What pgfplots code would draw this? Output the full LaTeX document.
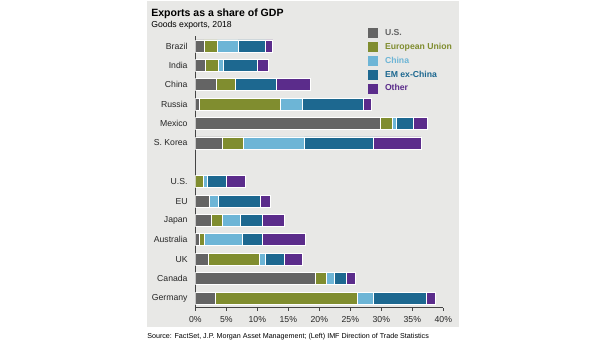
\documentclass[border=0pt]{standalone}
\usepackage{pgfplots}
\pgfplotsset{compat=1.18}
\usepackage{pgfplotstable}
\usepackage{fontspec}
\setmainfont{Liberation Sans}
\definecolor{cUS}{HTML}{646464}
\definecolor{cEU}{HTML}{808D2F}
\definecolor{cCN}{HTML}{6DB5D6}
\definecolor{cEM}{HTML}{1D6890}
\definecolor{cOT}{HTML}{5B2C8B}
\definecolor{panel}{HTML}{E8E8E6}
\definecolor{axl}{HTML}{444444}
\pgfplotstableread{
y us eu cn em oth
0 1.4 2.15 3.35 4.45 1.15
1 1.7 2.1 0.7 5.45 1.85
2 3.4 3.05 0 6.55 5.5
3 0.6 13.05 3.55 9.85 1.3
4 29.8 2.05 0.65 2.65 2.35
5 4.3 3.4 9.9 11.2 7.6
7 0 1.35 0.65 3.05 2.95
8 2.3 0 1.4 6.75 1.7
9 2.6 1.7 2.9 3.55 3.65
10 0.6 0.85 6.1 3.35 6.8
11 2.15 8.15 1.0 3.0 3.0
12 19.35 1.85 1.3 1.8 1.45
13 3.2 22.9 2.7 8.55 1.35
}\datatab
\begin{document}
\begin{tikzpicture}
\begin{scope}[x=0.75pt,y=-0.75pt]
\useasboundingbox (0,0) rectangle (605,341);
\fill[white] (0,0) rectangle (605,341);
\fill[panel] (147,1) rectangle (459,327);
\node[anchor=base west,inner sep=0pt,font=\fontsize{7.9pt}{9pt}\selectfont\bfseries] at (151,16.7) {Exports as a share of GDP};
\node[anchor=base west,inner sep=0pt,font=\fontsize{6.5pt}{8pt}\selectfont] at (151,27.5) {Goods exports, 2018};
\node[anchor=base west,inner sep=0pt,font=\fontsize{5.37pt}{6.5pt}\selectfont] at (147,338) {Source: FactSet, J.P. Morgan Asset Management; (Left) IMF Direction of Trade Statistics};
\end{scope}
\begin{axis}[
  at={(146.475pt,-230.775pt)}, anchor=south west,
  scale only axis, width=186pt, height=203.55pt,
  xbar stacked, bar width=0.62,
  xmin=0, xmax=40, ymin=-0.5, ymax=13.5, y dir=reverse,
  axis x line*=bottom, axis y line*=left,
  axis line style={axl, line width=0.5pt},
  tick align=outside,
  xtick={0,5,...,40},
  xticklabels={0\%,5\%,10\%,15\%,20\%,25\%,30\%,35\%,40\%},
  major tick length=2.4pt, minor tick length=2.4pt,
  tick style={axl, line width=0.5pt},
  ytick={0,1,2,3,4,5,7,8,9,10,11,12,13},
  yticklabels={Brazil,India,China,Russia,Mexico,S. Korea,U.S.,EU,Japan,Australia,UK,Canada,Germany},
  ytick style={draw=none},
  minor ytick={-0.5,0.5,...,13.5},
  minor tick style={axl, line width=0.5pt},
  ticklabel style={font=\fontsize{6.5pt}{8pt}\selectfont, text=black!85},
  yticklabel style={inner sep=0pt, anchor=east, xshift=-3.2pt},
  xticklabel style={inner sep=0pt, anchor=north, yshift=-4.0pt},
  legend cell align=left,
  legend style={at={(0.695,1.03)}, anchor=north west, draw=none, fill=none,
    inner sep=0pt, row sep=3.1pt,
    nodes={inner sep=0pt, font=\fontsize{6.5pt}{8pt}\selectfont\bfseries}},
  legend image code/.code={\fill[#1,draw=none] (0pt,-3.65pt) rectangle (7.3pt,3.65pt); \path (12.5pt,0pt);},
  every axis plot/.append style={draw=white, line width=0.6pt},
]
\addplot[fill=cUS] table[x=us,y=y]{\datatab};
\addlegendentry{\textcolor{cUS}{U.S.}}
\addplot[fill=cEU] table[x=eu,y=y]{\datatab};
\addlegendentry{\textcolor{cEU}{European Union}}
\addplot[fill=cCN] table[x=cn,y=y]{\datatab};
\addlegendentry{\textcolor{cCN}{China}}
\addplot[fill=cEM] table[x=em,y=y]{\datatab};
\addlegendentry{\textcolor{cEM}{EM ex-China}}
\addplot[fill=cOT] table[x=oth,y=y]{\datatab};
\addlegendentry{\textcolor{cOT}{Other}}
\end{axis}
\end{tikzpicture}
\end{document}
